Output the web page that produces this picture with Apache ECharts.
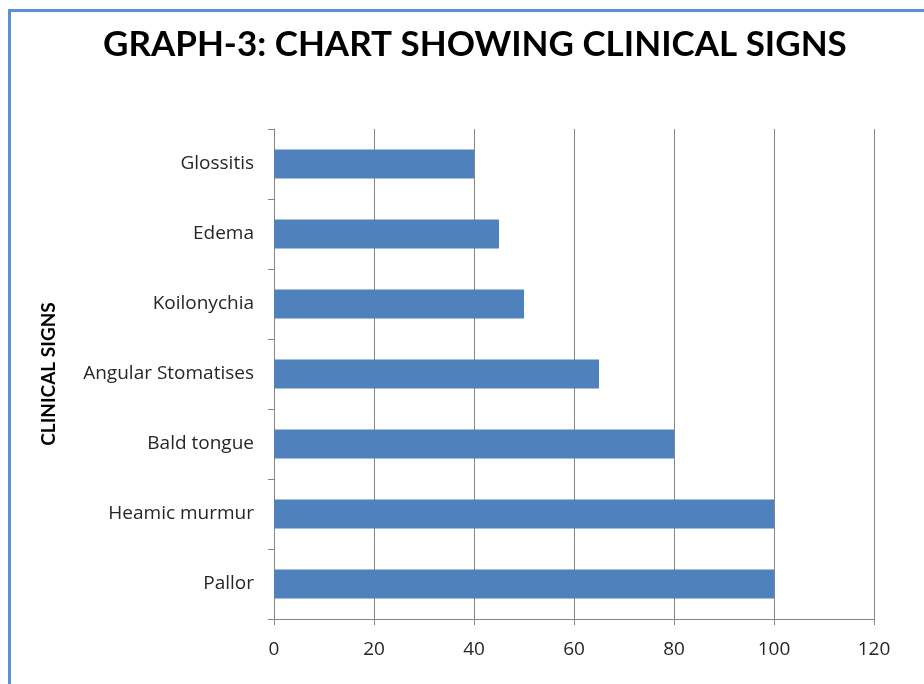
<!DOCTYPE html>
<html>
<head>
<meta charset="utf-8">
<script src="https://cdn.jsdelivr.net/npm/echarts@6/dist/echarts.min.js"></script>
<style>
html, body { margin: 0; padding: 0; background: #fff; }
#chart { width: 924px; height: 684px; }
#frame { position: absolute; left: 8px; top: 9px; width: 1200px; height: 1200px;
  border: 3px solid #5b8fdc; pointer-events: none; }
</style>
</head>
<body>
<div id="chart"></div>
<div id="frame"></div>
<script>
var signs = ['Pallor', 'Heamic murmur', 'Bald tongue', 'Angular Stomatises', 'Koilonychia', 'Edema', 'Glossitis'];
var counts = [100, 100, 80, 65, 50, 45, 40];
var chartTitle = 'GRAPH-3: CHART SHOWING CLINICAL SIGNS';
var axisName = 'CLINICAL SIGNS';

var gray = '#868686';
var myChart = echarts.init(document.getElementById('chart'));
myChart.setOption({
	animation: false,
	textStyle: { fontFamily: 'Open Sans' },
	title: {
		text: chartTitle,
		left: 98,
		top: 22,
		textStyle: { fontFamily: 'Lato', fontWeight: 'bold', fontSize: 35, color: '#000' }
	},
	grid: { left: 274, right: 50, top: 129, bottom: 65 },
	xAxis: {
		type: 'value',
		min: 0,
		max: 120,
		interval: 20,
		axisLine: { show: true, lineStyle: { color: gray } },
		axisTick: { show: true, length: 6, lineStyle: { color: gray } },
		splitLine: { show: true, lineStyle: { color: gray, width: 1 } },
		axisLabel: { color: '#262626', fontFamily: 'Open Sans', fontSize: 19, margin: 21 }
	},
	yAxis: {
		type: 'category',
		data: signs,
		name: axisName,
		nameLocation: 'middle',
		nameRotate: 90,
		nameGap: 216,
		nameTextStyle: { fontFamily: 'Lato', fontWeight: 'bold', fontSize: 19, color: '#000' },
		axisLine: { lineStyle: { color: gray } },
		axisTick: { show: true, length: 6, lineStyle: { color: gray } },
		axisLabel: { color: '#262626', fontFamily: 'Open Sans', fontSize: 19, margin: 20 }
	},
	series: [{
		type: 'bar',
		data: counts,
		barWidth: 29,
		itemStyle: { color: '#4f81bd' }
	}]
});
</script>
</body>
</html>
